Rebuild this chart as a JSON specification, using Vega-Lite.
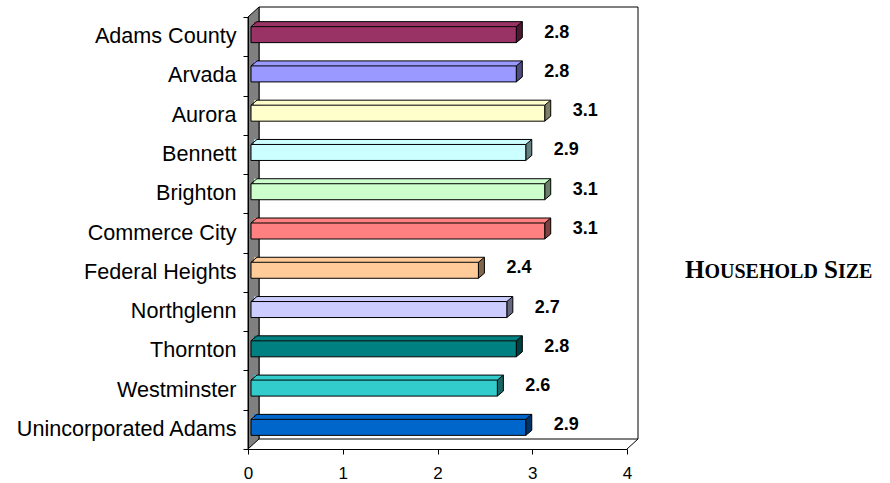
{
  "$schema": "https://vega.github.io/schema/vega-lite/v6.json",
  "autosize": "none",
  "width": 379,
  "height": 432,
  "padding": {"left": 248, "top": 17, "right": 263, "bottom": 34},
  "background": "white",
  "config": {"view": {"stroke": null}},
  "data": {
    "values": [
      {"city": "Adams County", "size": 2.8},
      {"city": "Arvada", "size": 2.8},
      {"city": "Aurora", "size": 3.1},
      {"city": "Bennett", "size": 2.9},
      {"city": "Brighton", "size": 3.1},
      {"city": "Commerce City", "size": 3.1},
      {"city": "Federal Heights", "size": 2.4},
      {"city": "Northglenn", "size": 2.7},
      {"city": "Thornton", "size": 2.8},
      {"city": "Westminster", "size": 2.6},
      {"city": "Unincorporated Adams", "size": 2.9}
    ]
  },
  "encoding": {
    "y": {
      "field": "city",
      "type": "nominal",
      "sort": null,
      "scale": {"paddingInner": 0, "paddingOuter": 0},
      "axis": {
        "title": null,
        "tickBand": "extent",
        "tickSize": 5,
        "tickColor": "black",
        "domainColor": "black",
        "labelFont": "Liberation Sans",
        "labelFontSize": 21.6,
        "labelColor": "black",
        "labelPadding": 7,
        "labelLimit": 400,
        "zindex": 1
      }
    }
  },
  "layer": [
    {
      "description": "back wall of the 3D plot box",
      "data": {"values": [{}]},
      "mark": {"type": "rect", "fill": "white", "stroke": "black", "strokeWidth": 1, "xOffset": 11, "x2Offset": 11, "yOffset": -10, "y2Offset": -10},
      "encoding": {
        "x": {"datum": 0, "type": "quantitative", "scale": {"domain": [0, 4], "nice": false},
              "axis": {"title": null, "values": [0, 1, 2, 3, 4], "format": "d", "tickSize": 5, "tickColor": "black", "domainColor": "black", "grid": false,
                       "labelFont": "Liberation Sans", "labelFontSize": 17, "labelColor": "black", "labelPadding": 11, "labelFlush": false, "zindex": 1}},
        "x2": {"datum": 4},
        "y": {"value": 0},
        "y2": {"value": "height"}
      }
    },
    {
      "description": "right edge of the floor",
      "data": {"values": [{}]},
      "mark": {"type": "rule", "stroke": "black", "strokeWidth": 1, "x2Offset": 11, "y2Offset": -10},
      "encoding": {
        "x": {"datum": 4, "type": "quantitative"},
        "x2": {"datum": 4},
        "y": {"value": "height"},
        "y2": {"value": "height"}
      }
    },
    {
      "description": "grey side wall",
      "data": {"values": [{}]},
      "mark": {"type": "point", "shape": "M0,0 L0,-432 L11,-442 L11,-10 Z", "size": 4, "filled": true, "fill": "#808080", "stroke": "black", "strokeWidth": 1, "opacity": 1},
      "encoding": {
        "x": {"datum": 0, "type": "quantitative"},
        "y": {"value": "height"}
      }
    },
    {
      "description": "bar top faces",
      "mark": {"type": "bar", "height": 5, "yOffset": -12.5, "xOffset": 9, "x2Offset": 6},
      "encoding": {
        "x": {"field": "size", "type": "quantitative"},
        "x2": {"datum": 0},
        "fill": {
          "field": "city", "type": "nominal", "legend": null,
          "scale": {
            "domain": ["Adams County", "Arvada", "Aurora", "Bennett", "Brighton", "Commerce City", "Federal Heights", "Northglenn", "Thornton", "Westminster", "Unincorporated Adams"],
            "range": ["#993366", "#9999FF", "#FFFFCC", "#CCFFFF", "#CCFFCC", "#FF8080", "#FFCC99", "#CCCCFF", "#008080", "#33CCCC", "#0066CC"]
          }
        }
      }
    },
    {
      "description": "top face back edge",
      "mark": {"type": "rule", "stroke": "black", "strokeWidth": 1, "xOffset": 9, "x2Offset": 9, "yOffset": -15},
      "encoding": {
        "x": {"field": "size", "type": "quantitative"},
        "x2": {"datum": 0}
      }
    },
    {
      "description": "top face left slant",
      "mark": {"type": "point", "shape": "M0,-10 L6,-15", "size": 4, "filled": false, "stroke": "black", "strokeWidth": 1, "opacity": 1, "xOffset": 3},
      "encoding": {
        "x": {"datum": 0, "type": "quantitative"}
      }
    },
    {
      "description": "bar side faces",
      "mark": {"type": "point", "shape": "M0,-10 L6,-15 L6,1 L0,6 Z", "size": 4, "filled": true, "strokeWidth": 0, "opacity": 1, "xOffset": 3},
      "encoding": {
        "x": {"field": "size", "type": "quantitative"},
        "fill": {"field": "city", "type": "nominal", "legend": null}
      }
    },
    {
      "description": "side face shading",
      "mark": {"type": "point", "shape": "M0,-10 L6,-15 L6,1 L0,6 Z", "size": 4, "filled": true, "fill": "black", "fillOpacity": 0.5, "stroke": "black", "strokeWidth": 1, "strokeOpacity": 1, "opacity": 1, "xOffset": 3},
      "encoding": {
        "x": {"field": "size", "type": "quantitative"}
      }
    },
    {
      "description": "bar front faces",
      "mark": {"type": "bar", "height": 16, "yOffset": -2, "xOffset": 3, "x2Offset": 3, "stroke": "black", "strokeWidth": 1},
      "encoding": {
        "x": {"field": "size", "type": "quantitative"},
        "x2": {"datum": 0},
        "fill": {"field": "city", "type": "nominal", "legend": null}
      }
    },
    {
      "description": "value labels",
      "mark": {"type": "text", "align": "left", "baseline": "middle", "dx": 31, "dy": -4, "font": "Liberation Sans", "fontSize": 18, "fontWeight": "bold", "color": "black"},
      "encoding": {
        "x": {"field": "size", "type": "quantitative"},
        "text": {"field": "size", "type": "quantitative", "format": ".1f"}
      }
    },
    {
      "data": {"values": [{}]},
      "mark": {"type": "text", "text": "H", "align": "left", "baseline": "alphabetic", "dx": 58, "dy": 6, "font": "Liberation Serif", "fontSize": 25, "fontWeight": "bold", "color": "black"},
      "encoding": {"x": {"value": "width"}, "y": {"datum": "Federal Heights"}}
    },
    {
      "data": {"values": [{}]},
      "mark": {"type": "text", "text": "OUSEHOLD", "align": "left", "baseline": "alphabetic", "dx": 77.5, "dy": 6, "font": "Liberation Serif", "fontSize": 20, "fontWeight": "bold", "color": "black"},
      "encoding": {"x": {"value": "width"}, "y": {"datum": "Federal Heights"}}
    },
    {
      "data": {"values": [{}]},
      "mark": {"type": "text", "text": "S", "align": "left", "baseline": "alphabetic", "dx": 197.1, "dy": 6, "font": "Liberation Serif", "fontSize": 25, "fontWeight": "bold", "color": "black"},
      "encoding": {"x": {"value": "width"}, "y": {"datum": "Federal Heights"}}
    },
    {
      "data": {"values": [{}]},
      "mark": {"type": "text", "text": "IZE", "align": "left", "baseline": "alphabetic", "dx": 211, "dy": 6, "font": "Liberation Serif", "fontSize": 20, "fontWeight": "bold", "color": "black"},
      "encoding": {"x": {"value": "width"}, "y": {"datum": "Federal Heights"}}
    }
  ]
}
